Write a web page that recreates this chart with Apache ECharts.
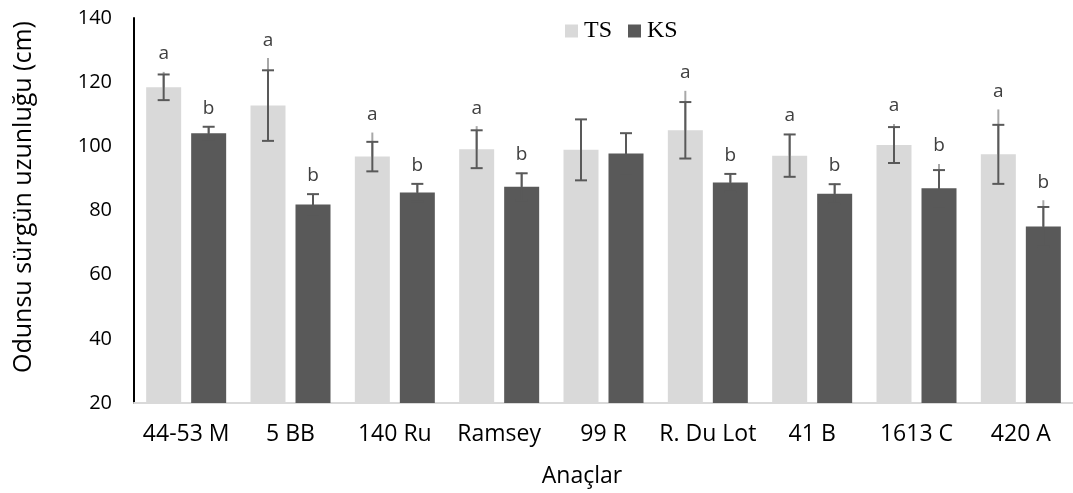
<!DOCTYPE html>
<html>
<head>
<meta charset="utf-8">
<script src="https://cdn.jsdelivr.net/npm/echarts@6/dist/echarts.min.js"></script>
<style>html,body{margin:0;padding:0;background:#fff;}#c{width:1073px;height:493px;}</style>
</head>
<body>
<div id="c"></div>
<script>
const categories = ['44-53 M', '5 BB', '140 Ru', 'Ramsey', '99 R', 'R. Du Lot', '41 B', '1613 C', '420 A'];
const tsValues = [118.4, 112.7, 96.8, 99.1, 98.9, 105.0, 97.1, 100.4, 97.5];
const ksValues = [104.1, 81.9, 85.6, 87.4, 97.8, 88.7, 85.2, 86.9, 75.0];
const tsErr = [4.0, 11.0, 4.6, 5.9, 9.5, 8.8, 6.6, 5.6, 9.2];
const ksErr = [2.0, 3.2, 2.7, 4.2, 6.3, 2.7, 3.0, 5.7, 6.1];
const tsWhisker = [123.2, 127.5, 104.3, 106.3, 108.4, 117.3, 103.9, 107.0, 111.5];
const ksWhisker = [106.3, 85.3, 88.5, 91.8, 104.1, 91.6, 88.5, 94.5, 83.2];
const tsLetters = ['a', 'a', 'a', 'a', '', 'a', 'a', 'a', 'a'];
const ksLetters = ['b', 'b', 'b', 'b', '', 'b', 'b', 'b', 'b'];
const yTicks = [20, 40, 60, 80, 100, 120, 140];

const BAR_W = 35, BAR_GAP = 10;
const OFF = (BAR_W + BAR_GAP) / 2;

function errData(vals, errs, wh, letters) {
  return vals.map((v, i) => [i, v, errs[i], wh[i], letters[i]]);
}
function makeRender(offset, letters) {
  return function (params, api) {
    const i = api.value(0), v = api.value(1), e = api.value(2), w = api.value(3);
    const c = api.coord([i, v]);
    const x = c[0] + offset;
    const yTop = api.coord([i, v + e])[1];
    const yBot = api.coord([i, v - e])[1];
    const yW = api.coord([i, w])[1];
    const topMost = Math.min(yW, yTop);
    const cap = 6;
    const children = [
      {type: 'line', shape: {x1: x, y1: c[1], x2: x, y2: yW}, style: {stroke: '#a8a8a8', lineWidth: 2}},
      {type: 'line', shape: {x1: x, y1: yBot, x2: x, y2: yTop}, style: {stroke: '#595959', lineWidth: 2}},
      {type: 'line', shape: {x1: x - cap, y1: yTop, x2: x + cap, y2: yTop}, style: {stroke: '#595959', lineWidth: 2}},
      {type: 'line', shape: {x1: x - cap, y1: yBot, x2: x + cap, y2: yBot}, style: {stroke: '#595959', lineWidth: 2}}
    ];
    const letter = letters[params.dataIndex];
    if (letter) {
      children.push({type: 'text', x: x, y: topMost - 18,
        style: {text: letter, fill: '#404040', font: '19px "Open Sans"', align: 'center', verticalAlign: 'middle'}});
    }
    return {type: 'group', children: children};
  };
}

const chart = echarts.init(document.getElementById('c'));
chart.setOption({
  animation: false,
  backgroundColor: '#fff',
  grid: {left: 134, right: -6, top: 18, bottom: 90},
  legend: {
    data: ['TS', 'KS'], left: 560, top: 14, icon: 'rect', itemWidth: 13, itemHeight: 13, itemGap: 16,
    textStyle: {fontFamily: 'Liberation Serif', fontSize: 24, color: '#000', padding: [0, 0, 0, 1]}
  },
  xAxis: {
    type: 'category', data: categories,
    axisLine: {lineStyle: {color: '#d9d9d9', width: 2}},
    axisTick: {show: false},
    axisLabel: {fontFamily: 'Open Sans', fontSize: 23, color: '#000', margin: 20, interval: 0}
  },
  yAxis: {
    type: 'value', min: yTicks[0], max: yTicks[yTicks.length - 1], interval: 20,
    axisLine: {show: true, lineStyle: {color: '#000', width: 2}},
    axisTick: {show: false},
    splitLine: {show: false},
    axisLabel: {fontFamily: 'Open Sans', fontSize: 20, color: '#000', margin: 22}
  },
  graphic: [
    {type: 'text', x: 24, y: 197, rotation: Math.PI / 2,
      style: {text: 'Odunsu sürgün uzunluğu (cm)', font: '25px "Open Sans"', fill: '#000', align: 'center', verticalAlign: 'middle'}},
    {type: 'text', x: 582, y: 476,
      style: {text: 'Anaçlar', font: '23px "Open Sans"', fill: '#000', align: 'center', verticalAlign: 'middle'}}
  ],
  series: [
    {name: 'TS', type: 'bar', data: tsValues, barWidth: BAR_W, barGap: (BAR_GAP / BAR_W * 100) + '%', itemStyle: {color: '#d9d9d9'}},
    {name: 'KS', type: 'bar', data: ksValues, barWidth: BAR_W, itemStyle: {color: '#595959'}},
    {type: 'custom', data: errData(tsValues, tsErr, tsWhisker, tsLetters), renderItem: makeRender(-OFF, tsLetters), encode: {x: 0, y: 1}, z: 5, silent: true},
    {type: 'custom', data: errData(ksValues, ksErr, ksWhisker, ksLetters), renderItem: makeRender(OFF, ksLetters), encode: {x: 0, y: 1}, z: 5, silent: true}
  ]
});
</script>
</body>
</html>
